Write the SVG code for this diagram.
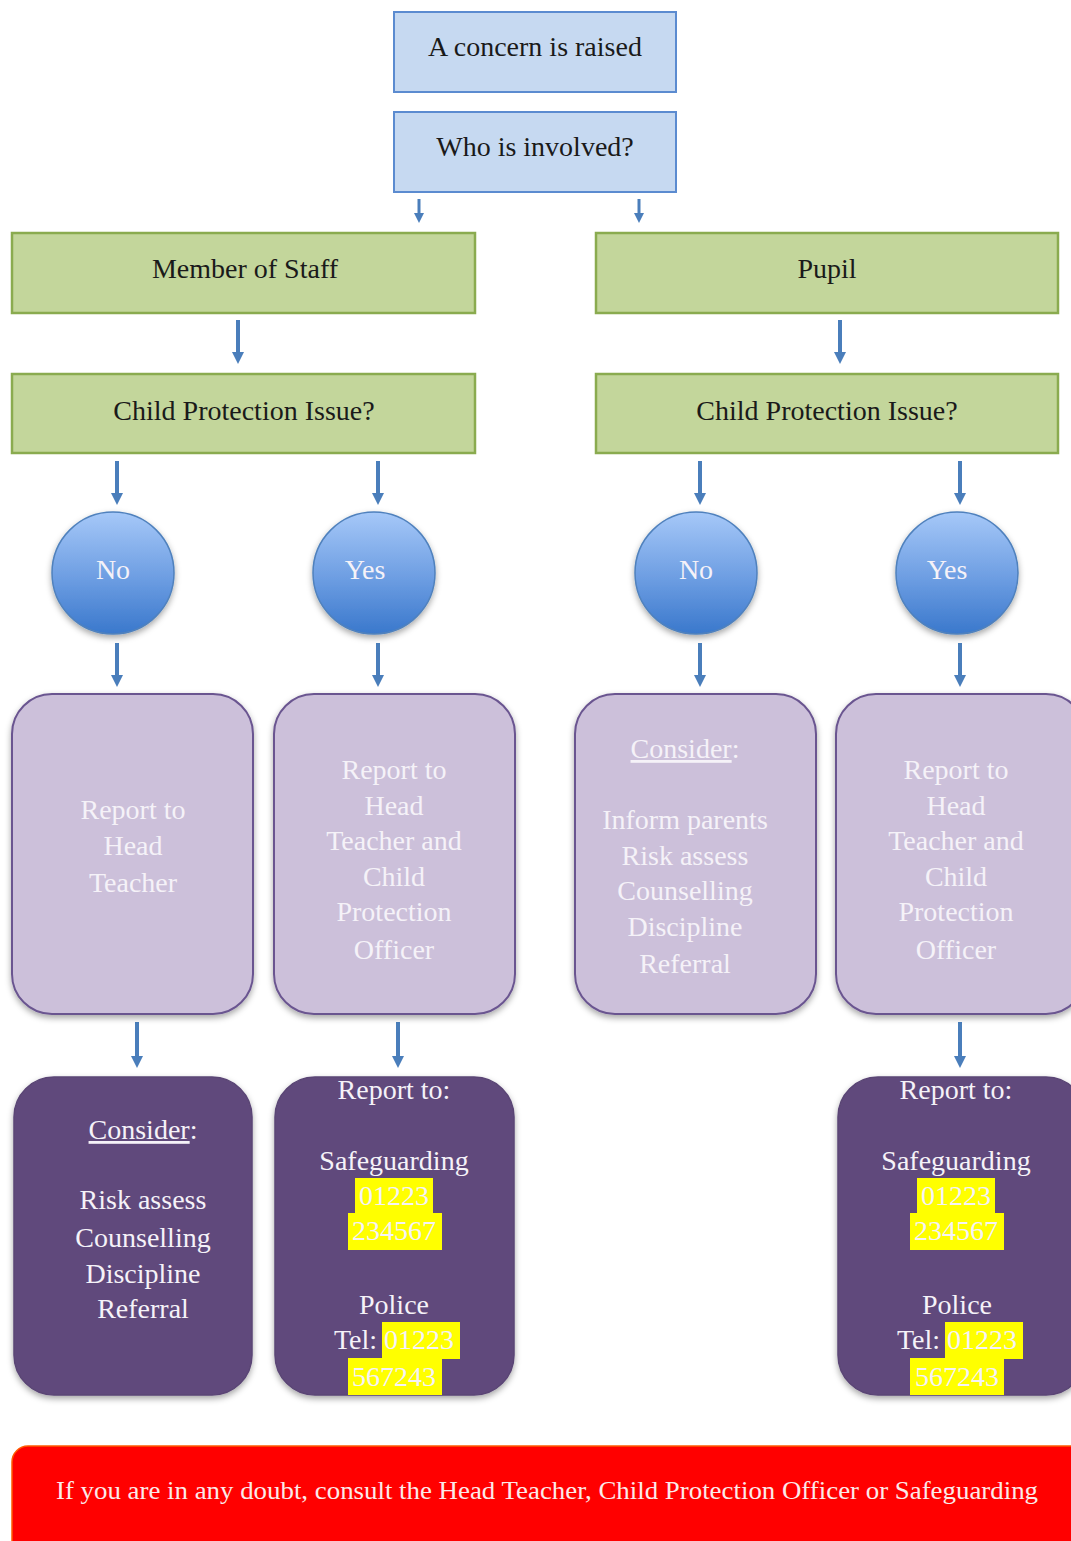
<svg xmlns="http://www.w3.org/2000/svg" width="1071" height="1541" viewBox="0 0 1071 1541" font-family="Liberation Serif, DejaVu Serif, serif">
<defs>
<style>
text{font-family:"Liberation Serif","DejaVu Serif",serif}
.t{text-anchor:middle}
.dk{fill:#1a1a1a;font-size:28px}
.wt{fill:#f5f2f8;font-size:28px}
.blue{fill:#c6d9f1;stroke:#5b8bd0;stroke-width:2}
.green{fill:#c3d69b;stroke:#8aab4f;stroke-width:2.5}
.lav{fill:#ccc0da;stroke:#6a5590;stroke-width:2}
.plum{fill:#604a7b;stroke:#5a4575;stroke-width:1.5}
.hl{fill:#ffff00}
.arr{stroke:#4a7ebb;stroke-width:4;fill:none;marker-end:url(#ah)}
.sarr{stroke:#4a7ebb;stroke-width:3;fill:none;marker-end:url(#ah2)}
</style>
<marker id="ah" markerWidth="3" markerHeight="3" refX="1.5" refY="1.5" orient="auto" markerUnits="strokeWidth"><path d="M0,0 L3,1.5 L0,3 z" fill="#4a7ebb"/></marker>
<marker id="ah2" markerWidth="3.5" markerHeight="3.5" refX="1.5" refY="1.75" orient="auto" markerUnits="strokeWidth"><path d="M0,0 L3.5,1.75 L0,3.5 z" fill="#4a7ebb"/></marker>
<linearGradient id="cg2" x1="0" y1="0" x2="0" y2="1">
<stop offset="0" stop-color="#a6c8f8"/>
<stop offset="0.55" stop-color="#6c9de2"/>
<stop offset="1" stop-color="#3a78cc"/>
</linearGradient>
<filter id="sh" x="-10%" y="-10%" width="120%" height="120%">
<feDropShadow dx="0" dy="3" stdDeviation="3" flood-color="#000" flood-opacity="0.35"/>
</filter>
</defs>

<g id="connectors">
<line class="sarr" x1="419" y1="199" x2="419" y2="217"/>
<line class="sarr" x1="639" y1="199" x2="639" y2="217"/>
<line class="arr" x1="238" y1="320" x2="238" y2="358"/>
<line class="arr" x1="840" y1="320" x2="840" y2="358"/>
<line class="arr" x1="117" y1="461" x2="117" y2="499"/>
<line class="arr" x1="378" y1="461" x2="378" y2="499"/>
<line class="arr" x1="700" y1="461" x2="700" y2="499"/>
<line class="arr" x1="960" y1="461" x2="960" y2="499"/>
<line class="arr" x1="117" y1="643" x2="117" y2="681"/>
<line class="arr" x1="378" y1="643" x2="378" y2="681"/>
<line class="arr" x1="700" y1="643" x2="700" y2="681"/>
<line class="arr" x1="960" y1="643" x2="960" y2="681"/>
<line class="arr" x1="137" y1="1022" x2="137" y2="1062"/>
<line class="arr" x1="398" y1="1022" x2="398" y2="1062"/>
<line class="arr" x1="960" y1="1022" x2="960" y2="1062"/>
</g>

<g id="concern">
<rect class="blue" x="394" y="12" width="282" height="80"/>
<text class="t dk" x="535" y="56">A concern is raised</text>
</g>
<g id="who">
<rect class="blue" x="394" y="112" width="282" height="80"/>
<text class="t dk" x="535" y="156">Who is involved?</text>
</g>

<g id="staff">
<rect class="green" x="12" y="233" width="463" height="80"/>
<text class="t dk" x="245" y="278">Member of Staff</text>
</g>
<g id="pupil">
<rect class="green" x="596" y="233" width="462" height="80"/>
<text class="t dk" x="827" y="278">Pupil</text>
</g>
<g id="cpi-staff">
<rect class="green" x="12" y="374" width="463" height="79"/>
<text class="t dk" x="244" y="420">Child Protection Issue?</text>
</g>
<g id="cpi-pupil">
<rect class="green" x="596" y="374" width="462" height="79"/>
<text class="t dk" x="827" y="420">Child Protection Issue?</text>
</g>

<g id="no-staff">
<circle cx="113" cy="573" r="61" fill="url(#cg2)" stroke="#4f81bd" stroke-width="1.5" filter="url(#sh)"/>
<text class="t wt" x="113" y="579">No</text>
</g>
<g id="yes-staff">
<circle cx="374" cy="573" r="61" fill="url(#cg2)" stroke="#4f81bd" stroke-width="1.5" filter="url(#sh)"/>
<text class="t wt" x="365" y="579">Yes</text>
</g>
<g id="no-pupil">
<circle cx="696" cy="573" r="61" fill="url(#cg2)" stroke="#4f81bd" stroke-width="1.5" filter="url(#sh)"/>
<text class="t wt" x="696" y="579">No</text>
</g>
<g id="yes-pupil">
<circle cx="957" cy="573" r="61" fill="url(#cg2)" stroke="#4f81bd" stroke-width="1.5" filter="url(#sh)"/>
<text class="t wt" x="947" y="579">Yes</text>
</g>

<g id="report-head">
<rect class="lav" x="12" y="694" width="241" height="320" rx="40" filter="url(#sh)"/>
<text class="t wt" x="133" y="819">Report to</text>
<text class="t wt" x="133" y="855">Head</text>
<text class="t wt" x="133" y="892">Teacher</text>
</g>
<g id="report-head-cpo-staff">
<rect class="lav" x="274" y="694" width="241" height="320" rx="40" filter="url(#sh)"/>
<text class="t wt" x="394" y="779">Report to</text>
<text class="t wt" x="394" y="815">Head</text>
<text class="t wt" x="394" y="850">Teacher and</text>
<text class="t wt" x="394" y="886">Child</text>
<text class="t wt" x="394" y="921">Protection</text>
<text class="t wt" x="394" y="959">Officer</text>
</g>
<g id="consider-pupil">
<rect class="lav" x="575" y="694" width="241" height="320" rx="40" filter="url(#sh)"/>
<text class="t wt" x="685" y="758"><tspan text-decoration="underline">Consider</tspan>:</text>
<text class="t wt" x="685" y="829">Inform parents</text>
<text class="t wt" x="685" y="865">Risk assess</text>
<text class="t wt" x="685" y="900">Counselling</text>
<text class="t wt" x="685" y="936">Discipline</text>
<text class="t wt" x="685" y="973">Referral</text>
</g>
<g id="report-head-cpo-pupil">
<rect class="lav" x="836" y="694" width="250" height="320" rx="40" filter="url(#sh)"/>
<text class="t wt" x="956" y="779">Report to</text>
<text class="t wt" x="956" y="815">Head</text>
<text class="t wt" x="956" y="850">Teacher and</text>
<text class="t wt" x="956" y="886">Child</text>
<text class="t wt" x="956" y="921">Protection</text>
<text class="t wt" x="956" y="959">Officer</text>
</g>

<g id="consider-staff">
<rect class="plum" x="14" y="1077" width="238" height="318" rx="40" filter="url(#sh)"/>
<text class="t wt" x="143" y="1139"><tspan text-decoration="underline">Consider</tspan>:</text>
<text class="t wt" x="143" y="1209">Risk assess</text>
<text class="t wt" x="143" y="1247">Counselling</text>
<text class="t wt" x="143" y="1283">Discipline</text>
<text class="t wt" x="143" y="1318">Referral</text>
</g>
<g id="report-to-staff">
<rect class="plum" x="275" y="1077" width="239" height="318" rx="40" filter="url(#sh)"/>
<rect class="hl" x="355" y="1178" width="78" height="36"/>
<rect class="hl" x="348" y="1213" width="94" height="37"/>
<rect class="hl" x="382" y="1322" width="78" height="37"/>
<rect class="hl" x="348" y="1358" width="94" height="37"/>
<text class="t wt" x="394" y="1099">Report to:</text>
<text class="t wt" x="394" y="1170">Safeguarding</text>
<text class="t wt" x="394" y="1205">01223</text>
<text class="t wt" x="394" y="1240">234567</text>
<text class="t wt" x="394" y="1314">Police</text>
<text class="t wt" x="394" y="1349">Tel: 01223</text>
<text class="t wt" x="394" y="1386">567243</text>
</g>
<g id="report-to-pupil">
<rect class="plum" x="838" y="1077" width="248" height="318" rx="40" filter="url(#sh)"/>
<rect class="hl" x="917" y="1178" width="78" height="36"/>
<rect class="hl" x="910" y="1213" width="94" height="37"/>
<rect class="hl" x="945" y="1322" width="78" height="37"/>
<rect class="hl" x="910" y="1358" width="94" height="37"/>
<text class="t wt" x="956" y="1099">Report to:</text>
<text class="t wt" x="956" y="1170">Safeguarding</text>
<text class="t wt" x="956" y="1205">01223</text>
<text class="t wt" x="956" y="1240">234567</text>
<text class="t wt" x="957" y="1314">Police</text>
<text class="t wt" x="957" y="1349">Tel: 01223</text>
<text class="t wt" x="957" y="1386">567243</text>
</g>

<g id="doubt">
<rect x="12" y="1446" width="1080" height="110" rx="16" fill="#ff0000" stroke="#ff5a00" stroke-width="1.5"/>
<text class="t" x="547" y="1499" font-size="25" fill="#fbeaea" textLength="982" lengthAdjust="spacingAndGlyphs">If you are in any doubt, consult the Head Teacher, Child Protection Officer or Safeguarding</text>
</g>
</svg>
